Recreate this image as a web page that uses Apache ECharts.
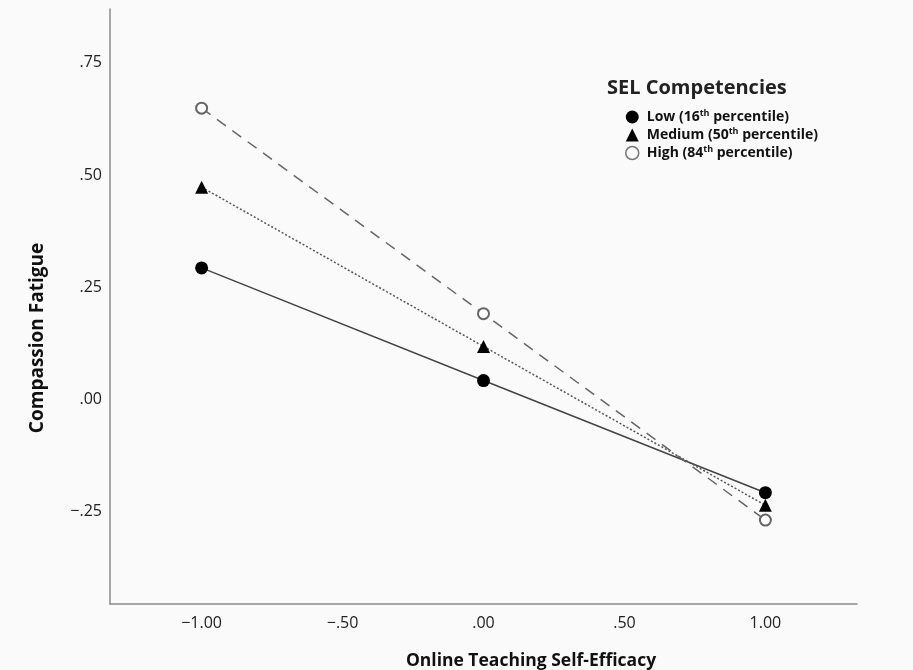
<!DOCTYPE html>
<html><head><meta charset="utf-8">
<script src="https://cdn.jsdelivr.net/npm/echarts@6/dist/echarts.min.js"></script>
<style>html,body{margin:0;padding:0;background:#fafafa}#c{width:913px;height:670px}</style>
</head><body><div id="c"></div>
<script>
const xCats = [-1, 0, 1];
const lowVals = [0.293, 0.042, -0.208];
const medVals = [0.473, 0.118, -0.236];
const highVals = [0.649, 0.191, -0.269];
const yTicks = [-0.25, 0, 0.25, 0.5, 0.75];
const xTicks = [-1, -0.5, 0, 0.5, 1];
const seriesNames = ['Low', 'Medium', 'High'];
const legendLabels = {Low: ['Low (16', ' percentile)'], Medium: ['Medium (50', ' percentile)'], High: ['High (84', ' percentile)']};

function fmt(v){
  if (Math.abs(v) < 1e-9) return '.00';
  let s = Math.abs(v).toFixed(2);
  if (s.startsWith('0')) s = s.slice(1);
  return (v < 0 ? '\u2212' : '') + s;
}
function pairs(vals){ return xCats.map((x,i)=>[x, vals[i]]); }

const font = '"Open Sans", sans-serif';
const chart = echarts.init(document.getElementById('c'));
chart.setOption({
  backgroundColor: '#fafafa',
  animation: false,
  grid: {left: 110, right: 56, top: 9, bottom: 66},
  xAxis: {
    type: 'value', min: -1.325, max: 1.325,
    axisLine: {show: true, onZero: false, lineStyle: {color: '#8a8a8a', width: 1.5}},
    axisTick: {show: false},
    splitLine: {show: false},
    axisLabel: {customValues: xTicks, formatter: fmt, color: '#222', fontSize: 16, fontFamily: font, margin: 11}
  },
  yAxis: {
    type: 'value', min: -0.456, max: 0.87,
    axisLine: {show: true, onZero: false, lineStyle: {color: '#8a8a8a', width: 1.5}},
    axisTick: {show: false},
    splitLine: {show: false},
    axisLabel: {customValues: yTicks, formatter: fmt, color: '#222', fontSize: 16, fontFamily: font, margin: 8}
  },
  legend: {
    orient: 'vertical', left: 620, top: 104, itemGap: 3,
    itemWidth: 13, itemHeight: 13,
    data: [
      {name: 'Low', icon: 'circle', itemStyle: {color: '#000'}},
      {name: 'Medium', icon: 'triangle', itemStyle: {color: '#000'}},
      {name: 'High', icon: 'circle', itemStyle: {color: '#fafafa', borderColor: '#777', borderWidth: 1.5}}
    ],
    formatter: n => '{f|' + legendLabels[n][0] + '}{s|th}{t|' + legendLabels[n][1] + '}',
    textStyle: {
      rich: {
        f: {fontSize: 14, fontWeight: 'bold', fontFamily: font, color: '#111', lineHeight: 16, padding: [0,0,0,3]},
        t: {fontSize: 14, fontWeight: 'bold', fontFamily: font, color: '#111', lineHeight: 16},
        s: {fontSize: 9, fontWeight: 'bold', fontFamily: font, color: '#111', verticalAlign: 'top', lineHeight: 16, padding: [0,0,6,0]}
      }
    }
  },
  graphic: [
    {type: 'text', x: 607, y: 88, style: {text: 'SEL Competencies', font: 'bold 20px "Open Sans", sans-serif', fill: '#222', verticalAlign: 'middle'}},
    {type: 'text', x: 38, y: 338, rotation: Math.PI/2, style: {text: 'Compassion Fatigue', font: 'bold 19px "Open Sans", sans-serif', fill: '#111', align: 'center', verticalAlign: 'middle'}},
    {type: 'text', x: 531, y: 661, style: {text: 'Online Teaching Self-Efficacy', font: 'bold 17.5px "Open Sans", sans-serif', fill: '#111', align: 'center', verticalAlign: 'middle'}}
  ],
  series: [
    {name: 'Low', type: 'line', data: pairs(lowVals), symbol: 'circle', symbolSize: 13,
     itemStyle: {color: '#000'}, lineStyle: {color: '#444', width: 1.5, type: 'solid'}, z: 3},
    {name: 'Medium', type: 'line', data: pairs(medVals), symbol: 'triangle', symbolSize: 13,
     itemStyle: {color: '#000'}, lineStyle: {color: '#555', width: 1.5, type: [2, 2]}, z: 3},
    {name: 'High', type: 'line', data: pairs(highVals), symbol: 'emptyCircle', symbolSize: 11,
     itemStyle: {color: '#666', borderWidth: 1.5}, lineStyle: {color: '#666', width: 1.5, type: [11, 8]}, z: 3}
  ]
});
</script></body></html>
